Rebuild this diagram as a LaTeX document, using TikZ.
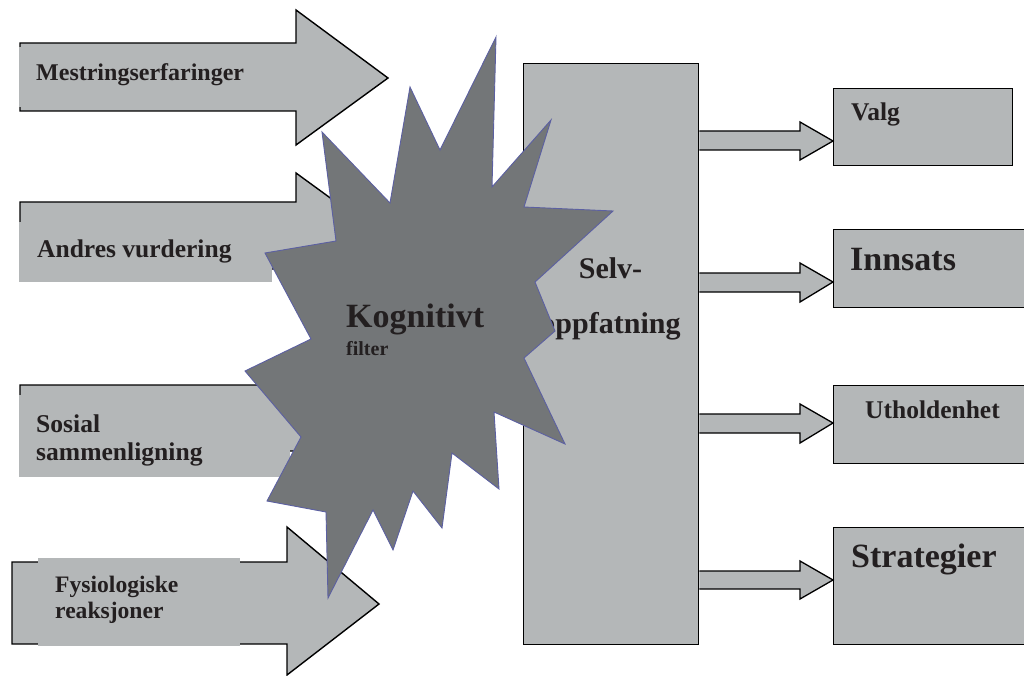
\documentclass[tikz,border=0pt]{standalone}
\usepackage{fontspec}
\setmainfont{Liberation Serif}
\definecolor{boxgray}{RGB}{180,183,184}
\definecolor{stargray}{RGB}{115,118,120}
\definecolor{starline}{RGB}{92,96,162}
\definecolor{ink}{RGB}{35,31,32}
\newcommand{\fs}[1]{\fontsize{#1}{#1}\selectfont\bfseries}
\tikzset{
  blockarrow/.style={fill=boxgray, draw=black, line width=1.4pt, line join=miter},
  labelpatch/.style={fill=boxgray, draw=none},
  outbox/.style={fill=boxgray, draw=black, line width=1.4pt},
  lbl/.style={text=ink, inner sep=0pt, anchor=base west},
  clbl/.style={text=ink, inner sep=0pt, anchor=base},
  burst/.style={fill=stargray, draw=starline, line width=0.9pt, line join=miter},
}
\begin{document}
\begin{tikzpicture}[x=1pt, y=-1pt]
\useasboundingbox (0,0) rectangle (1024,676);
\clip (0,0) rectangle (1024,676);

% --- input arrows on the left, each with its label patch ---
\draw[blockarrow] (20,43) -- (296,43) -- (296,10) -- (388,78) -- (296,145) -- (296,111) -- (20,111) -- cycle;
\fill[labelpatch] (19,47) rectangle (250,107);
\node[lbl, font=\fs{24}] (mest) at (36,81) {Mestringserfaringer};

\draw[blockarrow] (20,202) -- (296,202) -- (296,173) -- (388,240) -- (296,307) -- (296,269) -- (20,269) -- cycle;
\fill[labelpatch] (19,222) rectangle (272,282);
\node[lbl, font=\fs{25.5}] (andre) at (37,257) {Andres vurdering};

\draw[blockarrow] (20,385) -- (296,385) -- (296,352) -- (388,418) -- (296,485) -- (296,451) -- (20,451) -- cycle;
\fill[labelpatch] (19,395) rectangle (290,477);
\node[lbl, font=\fs{25.6}] (sos1) at (36,432) {Sosial};
\node[lbl, font=\fs{25.6}] (sos2) at (36,460) {sammenligning};

\draw[blockarrow] (12,562) -- (287,562) -- (287,527) -- (379,604) -- (287,675) -- (287,644) -- (12,644) -- cycle;
\fill[labelpatch] (38,558) rectangle (240,646);
\node[lbl, font=\fs{23.6}] (fys1) at (55,592) {Fysiologiske};
\node[lbl, font=\fs{23.6}] (fys2) at (55,618) {reaksjoner};

% --- central self-concept block ---
\node[outbox, minimum width=175pt, minimum height=581pt, inner sep=0pt, anchor=north west] (selv) at (523,63) {};
\node[clbl, font=\fs{30}] (selv1) at (610.5,278) {Selv-};
\node[clbl, font=\fs{30}] (selv2) at (610.5,333) {oppfatning};

% --- outcome boxes ---
\node[outbox, minimum width=179pt, minimum height=77pt, inner sep=0pt, anchor=north west] (valg) at (833,88) {};
\node[outbox, minimum width=200pt, minimum height=78pt, inner sep=0pt, anchor=north west] (inns) at (833,229) {};
\node[outbox, minimum width=200pt, minimum height=78pt, inner sep=0pt, anchor=north west] (uth) at (833,385) {};
\node[outbox, minimum width=200pt, minimum height=117pt, inner sep=0pt, anchor=north west] (strat) at (833,527) {};

\node[lbl, font=\fs{25.5}] (valgt) at (851,121) {Valg};
\node[lbl, font=\fs{34}] (innst) at (850,270) {Innsats};
\node[lbl, font=\fs{25.5}] (utht) at (865,418) {Utholdenhet};
\node[lbl, font=\fs{34}] (stratt) at (851,567) {Strategier};

% --- output arrows from the block to each box ---
\foreach \yt/\yb/\ht/\hb/\tip in {131/150/122/160/141, 273/292/263/302/282, 414/433/404/443/423, 571/589/561/599/580}{
  \draw[blockarrow, line width=1.3pt] (selv.east |- 0,\yt) -- (800,\yt) -- (800,\ht) -- (valg.west |- 0,\tip)
     -- (800,\hb) -- (800,\yb) -- (selv.east |- 0,\yb);
}

% --- cognitive filter burst ---
\draw[burst] (322,132) -- (390,203) -- (410,87) -- (440,150) -- (496,37) -- (492,187)
  -- (551,120) -- (524,207) -- (613,211) -- (535,282) -- (555,331) -- (524,358)
  -- (565,444) -- (494,412) -- (499,489) -- (452,453) -- (442,528) -- (413,491)
  -- (393,550) -- (373,510) -- (328,598) -- (326,512) -- (267,501) -- (301,437)
  -- (245,371) -- (311,339) -- (265,253) -- (336,241) -- cycle;
\node[lbl, font=\fs{34}] (kog) at (346,327) {Kognitivt};
\node[lbl, font=\fs{20}] (filt) at (346,355) {filter};
\end{tikzpicture}
\end{document}
